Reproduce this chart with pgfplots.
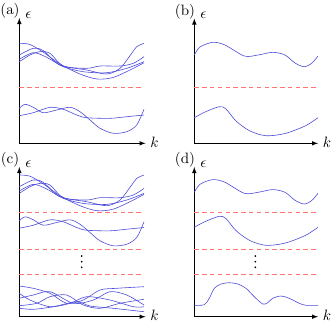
\documentclass[border=0pt]{standalone}
\usepackage{pgfplots}
\pgfplotsset{compat=1.18}

% coordinates below are in pixels of the 333x322 reference, y measured downwards (so negated)
\definecolor{bandblue}{rgb}{0.3,0.3,0.85}
\pgfplotsset{
  band/.style={
    axis lines=left, axis line style={-latex, line width=0.4pt},
    xtick=\empty, ytick=\empty,
    x=0.6667pt, y=0.6667pt,
    anchor=south west, clip=false,
    xlabel={$k$}, ylabel={$\epsilon$},
    every axis x label/.style={at={(axis description cs:1,0)}, anchor=center, xshift=6pt, yshift=1pt},
    every axis y label/.style={at={(axis description cs:0,1)}, anchor=center, xshift=6pt, yshift=2pt},
  },
  bnd/.style={bandblue, smooth, line width=0.4pt},
  gap/.style={red!55, dash pattern=on 3pt off 2.2pt, line width=0.45pt},
}
\newcommand{\tag}[1]{\node at (axis description cs:0,1) [xshift=-6.2pt, yshift=4.7pt] {(#1)};}

\begin{document}
\begin{tikzpicture}
\path[use as bounding box] (0,0) rectangle (333*0.6667pt,-322*0.6667pt);

% (a)
\begin{axis}[band, at={(19.3*0.6667pt,-143.3*0.6667pt)},
  xmin=19.3, xmax=145.5, ymin=-143.3, ymax=-18]
\tag{a}
\addplot[bnd] coordinates {(19.3,-43.3) (30,-44.5) (43,-52) (60,-64) (80,-74) (97,-79) (113,-77.5) (130,-70) (144,-62.7)};
\addplot[bnd] coordinates {(19.3,-55) (33.3,-48.3) (43.3,-50.7) (60,-65) (86.7,-70) (106.7,-74) (120,-68.3) (131.7,-53.3) (136.7,-46.7) (144,-43.3)};
\addplot[bnd] coordinates {(19.3,-61.7) (30,-55) (40,-51.7) (50,-53.3) (63.3,-66) (86.7,-68.3) (100,-66) (120,-66) (133.3,-63.3) (144,-56.7)};
\addplot[bnd] coordinates {(19.3,-59.3) (33.3,-52.7) (46.7,-57.3) (63.3,-66.7) (83.3,-71.7) (106.7,-72.7) (126.7,-68.3) (144,-61.7)};
\addplot[gap] coordinates {(19.3,-87.3) (144,-87.3)};
\addplot[bnd] coordinates {(19.3,-108.3) (25,-104.3) (33.3,-107.3) (43.3,-112.7) (56.7,-110) (70,-107.3) (80,-111.7) (90,-120) (100,-128.3) (113.3,-133.3) (126.7,-131.7) (136.7,-125) (144,-109.3)};
\addplot[bnd] coordinates {(19.3,-115.7) (33.3,-112.7) (50,-107.3) (63.3,-109.3) (76.7,-115) (86.7,-117.7) (110,-118.3) (126.7,-116.7) (144,-115)};
\end{axis}

% (b)
\begin{axis}[band, at={(194.3*0.6667pt,-143.3*0.6667pt)},
  xmin=194.3, xmax=318, ymin=-143.3, ymax=-18.5]
\tag{b}
\addplot[bnd] coordinates {(194.3,-55) (200,-47) (212.7,-42.3) (225,-45) (244.3,-56) (258,-55) (272.7,-52.3) (285,-55) (295,-63) (304.3,-66.7) (312,-63) (318,-56)};
\addplot[gap] coordinates {(194.3,-87.3) (318,-87.3)};
\addplot[bnd] coordinates {(194.3,-117.7) (205,-112) (219.3,-106.7) (226,-109) (236,-121) (250,-131) (266,-135.7) (285,-133.5) (305,-126) (318,-117.7)};
\end{axis}

% (c)
\begin{axis}[band, at={(19.3*0.6667pt,-316.7*0.6667pt)},
  xmin=19.3, xmax=145.5, ymin=-316.7, ymax=-167]
\tag{c}
\addplot[bnd] coordinates {(19.3,-175) (30,-176.2) (43,-183.7) (60,-195.7) (80,-205.7) (97,-210.7) (113,-209.2) (130,-201.7) (144,-194.4)};
\addplot[bnd] coordinates {(19.3,-186.7) (33.3,-180) (43.3,-182.4) (60,-196.7) (86.7,-201.7) (106.7,-205.7) (120,-200) (131.7,-185) (136.7,-178.4) (144,-175)};
\addplot[bnd] coordinates {(19.3,-193.4) (30,-186.7) (40,-183.4) (50,-185) (63.3,-197.7) (86.7,-200) (100,-197.7) (120,-197.7) (133.3,-195) (144,-188.4)};
\addplot[bnd] coordinates {(19.3,-191) (33.3,-184.4) (46.7,-189) (63.3,-198.4) (83.3,-203.4) (106.7,-204.4) (126.7,-200) (144,-193.4)};
\addplot[gap] coordinates {(19.3,-212) (144,-212)};
\addplot[bnd] coordinates {(19.3,-220.8) (25,-216.8) (33.3,-219.8) (43.3,-225.2) (56.7,-222.5) (70,-219.8) (80,-224.2) (90,-232.5) (100,-240.8) (113.3,-245.8) (126.7,-244.2) (136.7,-237.5) (144,-221.8)};
\addplot[bnd] coordinates {(19.3,-228.2) (33.3,-225.2) (50,-219.8) (63.3,-221.8) (76.7,-227.5) (86.7,-230.2) (110,-230.8) (126.7,-229.2) (144,-227.5)};
\addplot[gap] coordinates {(19.3,-249) (144,-249)};
\addplot[only marks, mark=*, mark size=0.35pt, black] coordinates {(81.7,-256) (81.7,-261.7) (81.7,-267.3)};
\addplot[gap] coordinates {(19.3,-274) (144,-274)};
\addplot[bnd] coordinates {(19.3,-286) (33.3,-288.3) (50,-293.3) (66.7,-303.3) (83.3,-300) (100,-290) (116.7,-288.3) (144,-286.7)};
\addplot[bnd] coordinates {(19.3,-298.3) (33.3,-295) (50,-291.7) (73.3,-303.3) (93.3,-300) (110,-291.7) (126.7,-295) (144,-305)};
\addplot[bnd] coordinates {(19.3,-305.7) (36.7,-303.3) (50,-296.7) (66.7,-295) (83.3,-305) (100,-308.3) (120,-303.3) (144,-299.3)};
\addplot[bnd] coordinates {(19.3,-293.3) (30,-300) (50,-306.7) (70,-303.3) (86.7,-296.7) (110,-300) (133.3,-306.7) (144,-306.7)};
\addplot[bnd] coordinates {(19.3,-308.3) (33.3,-309.3) (53.3,-306.7) (76.7,-301.7) (90,-306) (113.3,-308.3) (144,-311.7)};
\end{axis}

% (d)
\begin{axis}[band, at={(194.3*0.6667pt,-316.7*0.6667pt)},
  xmin=194.3, xmax=318, ymin=-316.7, ymax=-167]
\tag{d}
\addplot[bnd] coordinates {(194.3,-192.3) (200,-184.3) (212.7,-179.6) (225,-182.3) (244.3,-193.3) (258,-192.3) (272.7,-189.6) (285,-192.3) (295,-200.3) (304.3,-204) (312,-200.3) (318,-193.3)};
\addplot[gap] coordinates {(194.3,-212) (318,-212)};
\addplot[bnd] coordinates {(194.3,-227.3) (205,-221.6) (219.3,-216.3) (226,-218.6) (236,-230.6) (250,-240.6) (266,-245.3) (285,-243.1) (305,-235.6) (318,-227.3)};
\addplot[gap] coordinates {(194.3,-249) (318,-249)};
\addplot[only marks, mark=*, mark size=0.35pt, black] coordinates {(255.3,-256) (255.3,-261.7) (255.3,-267.3)};
\addplot[gap] coordinates {(194.3,-274) (318,-274)};
\addplot[bnd] coordinates {(194.3,-305.3) (204.3,-304.7) (209.3,-298.3) (214.3,-288.3) (221,-284) (229.3,-282.7) (237.7,-284) (246,-288.3) (254.3,-296.7) (262.7,-304) (267.7,-302.7) (272.7,-298.3) (281,-296) (289.3,-298.3) (299.3,-303.3) (306,-305.3) (318,-305.3)};
\end{axis}
\end{tikzpicture}
\end{document}
